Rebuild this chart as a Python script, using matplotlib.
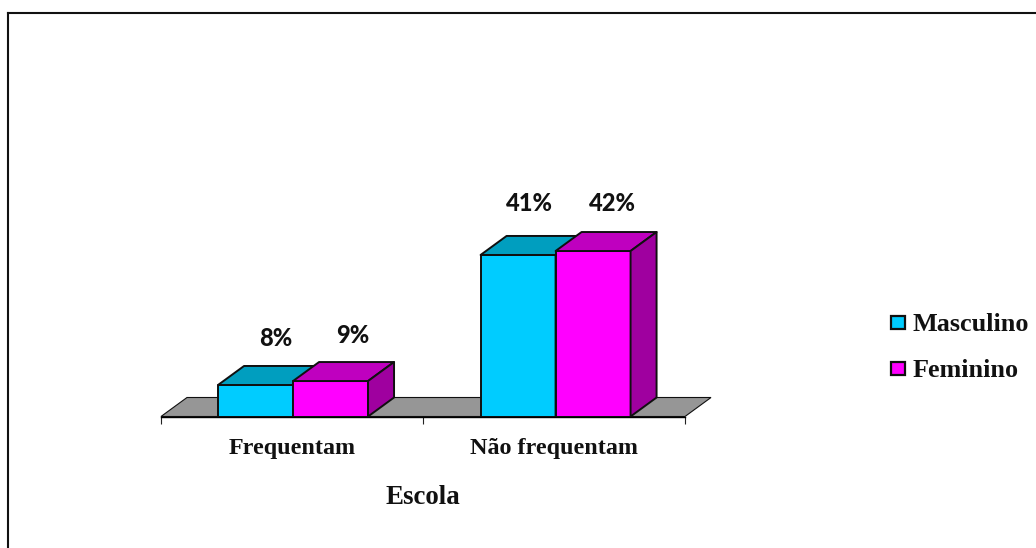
import matplotlib
matplotlib.use('Agg')
import matplotlib.pyplot as plt
from matplotlib.patches import Polygon, Rectangle

categories = ['Frequentam', 'Não frequentam']
series_names = ['Masculino', 'Feminino']
masculino = [8, 41]
feminino = [9, 42]

W, H = 1036, 548
CYAN = ['#00ccff', '#009ebf', '#007f9f']
MAGENTA = ['#ff00ff', '#bf00bf', '#9f009f']
EDGE = '#101010'

fig = plt.figure(figsize=(W / 100, H / 100), dpi=100)

# frame around the chart, open on the right and at the bottom edge of the image
bg = fig.add_axes([0, 0, 1, 1])
bg.set_xlim(0, W)
bg.set_ylim(H, 0)
bg.axis('off')
bg.plot([7.5, 7.5], [H, 13], color='#111111', lw=1.5)
bg.plot([7.5, W], [13, 13], color='#111111', lw=1.5)

# plot area: baseline at y=416.5, 2 categories across 161..685
ax = fig.add_axes([161 / W, 1 - 416.5 / H, 524 / W, 300 / H])
ax.set_xlim(0, 2)
px_per_pct = 3.94
ax.set_ylim(0, 300 / px_per_pct)
ax.patch.set_alpha(0)
for s in ['top', 'left', 'right']:
    ax.spines[s].set_visible(False)
ax.spines['bottom'].set_linewidth(1.0)
ax.spines['bottom'].set_zorder(6)
ax.yaxis.set_visible(False)
ax.set_xticks([0, 1, 2])
ax.set_xticklabels([])
ax.tick_params(axis='x', length=5, width=0.8, color='#222222')

depth_x = 26 / 262
depth_y = 19 / px_per_pct
bar_w = 75 / 262

# floor
ax.add_patch(Polygon([(0, 0), (2, 0), (2 + depth_x, depth_y), (depth_x, depth_y)],
                     fc='#969696', ec=EDGE, lw=0.8, zorder=1, clip_on=False))


def bar3d(x0, h, colors, z):
    w = bar_w
    front = [(x0, 0), (x0 + w, 0), (x0 + w, h), (x0, h)]
    top = [(x0, h), (x0 + w, h), (x0 + w + depth_x, h + depth_y), (x0 + depth_x, h + depth_y)]
    side = [(x0 + w, 0), (x0 + w + depth_x, depth_y), (x0 + w + depth_x, h + depth_y), (x0 + w, h)]
    for pts, c in zip([front, top, side], colors):
        ax.add_patch(Polygon(pts, fc=c, ec=EDGE, lw=1.4, joinstyle='round', zorder=z))


def pct_label(x, y, value, nudge):
    # nudge is (px right, px above the bar top)
    ax.text(x + nudge[0] / 262, y + nudge[1] / px_per_pct, f'{value}%', family='Lato',
            fontweight='black', fontsize=17, color='#111111', ha='center', va='center')


nudge_masc = [(20.5, 46), (11.5, 51)]
nudge_fem = [(22.5, 45.5), (19, 48)]
for i, cat in enumerate(categories):
    center = i + 0.504 + 0.002 * i
    bar3d(center - bar_w, masculino[i], CYAN, 2)
    bar3d(center, feminino[i], MAGENTA, 3)
    pct_label(center - bar_w / 2, masculino[i], masculino[i], nudge_masc[i])
    pct_label(center + bar_w / 2, feminino[i], feminino[i], nudge_fem[i])
    ax.text(i + 0.5, -8.1, cat, family='Liberation Serif', fontweight='bold',
            fontsize=17.4, color='#111111', ha='center', va='center')

# axis title
bg.text(422.5, 498, 'Escola', family='Liberation Serif', fontweight='bold', fontsize=19.4,
        color='#111111', ha='center', va='center')

# legend
for name, c, y, base in zip(series_names, [CYAN[0], MAGENTA[0]], [322, 368.5], [331, 377]):
    bg.add_patch(Rectangle((890.5, y - 6.5), 14, 13, fc=c, ec=EDGE, lw=1.6))
    bg.text(912.5, base, name, family='Liberation Serif', fontweight='bold', fontsize=18.8,
            color='#111111', ha='left', va='baseline')

fig.savefig('out.png', dpi=100)
